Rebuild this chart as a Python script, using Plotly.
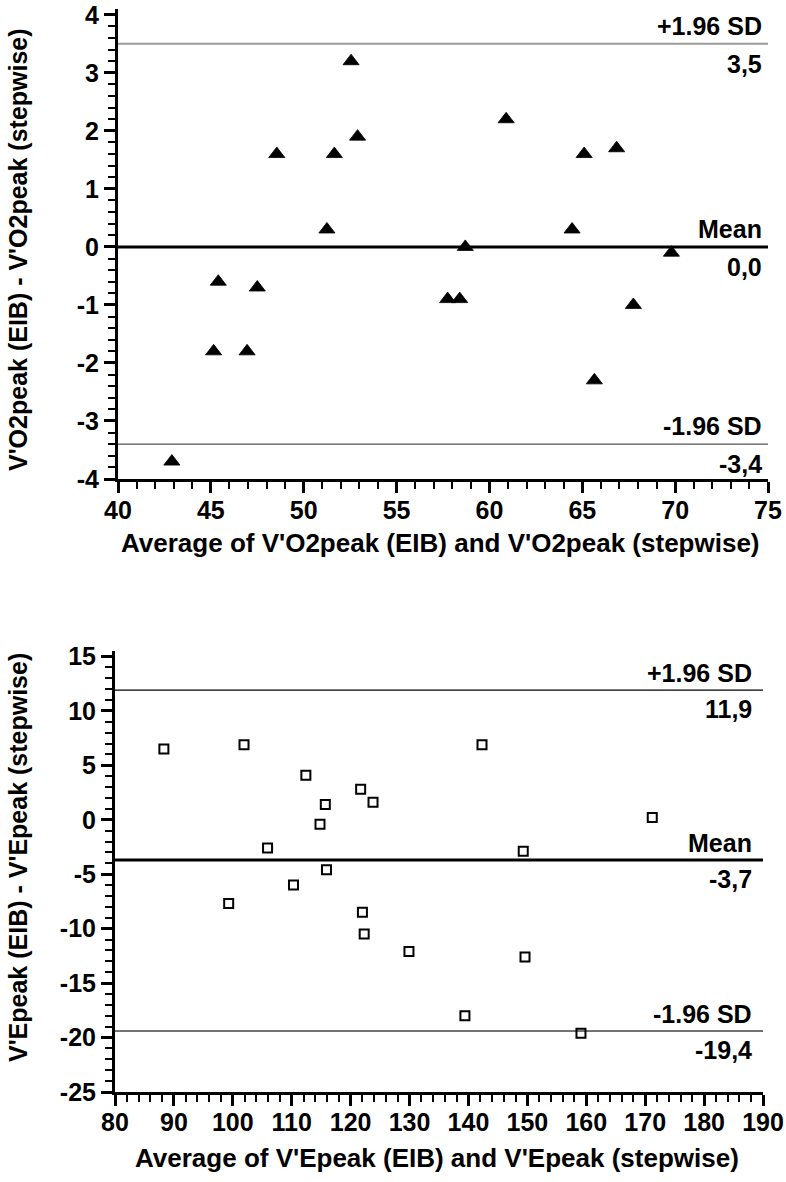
import plotly.graph_objects as go

W, H = 786, 1182

# V'O2peak: average of the two methods vs. their difference
vo2_avg = [42.9, 45.15, 45.4, 46.95, 47.5, 48.55, 51.25, 51.65, 52.55, 52.9,
           57.75, 58.4, 58.7, 60.9, 64.45, 65.1, 65.65, 66.85, 67.75, 69.8]
vo2_diff = [-3.7, -1.8, -0.6, -1.8, -0.7, 1.6, 0.3, 1.6, 3.2, 1.9,
            -0.9, -0.9, 0.0, 2.2, 0.3, 1.6, -2.3, 1.7, -1.0, -0.1]
vo2_limits = [3.5, 0.0, -3.4]
vo2_xticks = [40, 45, 50, 55, 60, 65, 70, 75]
vo2_yticks = [-4, -3, -2, -1, 0, 1, 2, 3, 4]

# V'Epeak: average of the two methods vs. their difference
ve_avg = [88.3, 99.3, 101.9, 105.9, 110.3, 112.4, 114.8, 115.7, 115.9, 121.7,
          122.0, 122.3, 123.8, 129.9, 139.4, 142.3, 149.3, 149.6, 159.1, 171.2]
ve_diff = [6.5, -7.7, 6.9, -2.6, -6.0, 4.1, -0.4, 1.4, -4.6, 2.8,
           -8.5, -10.5, 1.6, -12.1, -18.0, 6.9, -2.9, -12.6, -19.6, 0.2]
ve_limits = [11.9, -3.7, -19.4]
ve_xticks = [80, 90, 100, 110, 120, 130, 140, 150, 160, 170, 180, 190]
ve_yticks = [-25, -20, -15, -10, -5, 0, 5, 10, 15]

limit_names = ["+1.96 SD", "Mean", "-1.96 SD"]

FONT = "Liberation Sans, Arial, sans-serif"


def px_x(p):
    return p / W


def px_y(p):
    return 1 - p / H


def fmt(v):
    return f"{v:.1f}".replace(".", ",")


fig = go.Figure()

fig.add_trace(go.Scatter(
    x=vo2_avg, y=vo2_diff, mode="markers", xaxis="x", yaxis="y",
    marker=dict(symbol="triangle-up", size=14, color="black", line=dict(width=0.8, color="black")),
    showlegend=False, cliponaxis=False,
))
fig.add_trace(go.Scatter(
    x=ve_avg, y=ve_diff, mode="markers", xaxis="x2", yaxis="y2",
    marker=dict(symbol="square-open", size=9, color="black", line=dict(width=2, color="black")),
    showlegend=False, cliponaxis=False,
))

# Limit-of-agreement lines with their labels
top_styles = [dict(color="#9a9a9a", width=2), dict(color="black", width=3), dict(color="#555555", width=1.3)]
bot_styles = [dict(color="black", width=1.3), dict(color="black", width=3), dict(color="#444444", width=1.3)]
label_font = dict(family=FONT, size=25, color="black", weight="bold")

annotations = []

for val, name, style in zip(vo2_limits, limit_names, top_styles):
    fig.add_shape(type="line", xref="x", yref="y", x0=40, x1=75, y0=val, y1=val,
                  line=style, layer="below")
    annotations.append(dict(xref="x", yref="y", x=75, y=val, xanchor="right", yanchor="middle",
                            xshift=-4, yshift=18, showarrow=False, text=f"<b>{name}</b>", font=label_font))
    annotations.append(dict(xref="x", yref="y", x=75, y=val, xanchor="right", yanchor="middle",
                            xshift=-4, yshift=-20, showarrow=False, text=f"<b>{fmt(val)}</b>", font=label_font))

for val, name, style in zip(ve_limits, limit_names, bot_styles):
    fig.add_shape(type="line", xref="x2", yref="y2", x0=80, x1=190, y0=val, y1=val,
                  line=style, layer="below")
    annotations.append(dict(xref="x2", yref="y2", x=190, y=val, xanchor="right", yanchor="middle",
                            xshift=-9, yshift=17, showarrow=False, text=f"<b>{name}</b>", font=label_font))
    annotations.append(dict(xref="x2", yref="y2", x=190, y=val, xanchor="right", yanchor="middle",
                            xshift=-9, yshift=-19, showarrow=False, text=f"<b>{fmt(val)}</b>", font=label_font))

# Axis titles
title_font = dict(family=FONT, size=26, color="black", weight="bold")
ytitle_font = dict(family=FONT, size=25, color="black", weight="bold")
annotations += [
    dict(xref="paper", yref="paper", x=px_x(440), y=px_y(543), xanchor="center", yanchor="middle",
         showarrow=False, text="<b>Average of V'O2peak (EIB) and V'O2peak (stepwise)</b>", font=title_font),
    dict(xref="paper", yref="paper", x=px_x(18), y=px_y(250), xanchor="center", yanchor="middle",
         showarrow=False, textangle=-90, text="<b>V'O2peak (EIB) - V'O2peak (stepwise)</b>", font=ytitle_font),
    dict(xref="paper", yref="paper", x=px_x(437), y=px_y(1158), xanchor="center", yanchor="middle",
         showarrow=False, text="<b>Average of V'Epeak (EIB) and V'Epeak (stepwise)</b>", font=title_font),
    dict(xref="paper", yref="paper", x=px_x(18), y=px_y(858), xanchor="center", yanchor="middle",
         showarrow=False, textangle=-90, text="<b>V'Epeak (EIB) - V'Epeak (stepwise)</b>", font=ytitle_font),
]

tick_font = dict(family=FONT, size=25, color="black", weight="bold")


def axis(domain, rng, ticks, minor_dtick, anchor, standoff):
    return dict(
        domain=domain, range=rng, anchor=anchor, automargin=False,
        tickmode="array", tickvals=ticks, ticktext=[f"<b>{t}</b>" for t in ticks],
        ticks="outside", ticklen=11, tickwidth=2.5, tickcolor="black",
        ticklabelstandoff=standoff,
        showline=True, linewidth=3, linecolor="black", mirror=False,
        showgrid=False, zeroline=False, tickfont=tick_font,
        minor=dict(tickmode="linear", dtick=minor_dtick, tick0=0, ticks="outside", ticklen=7,
                   tickwidth=2, tickcolor="black", showgrid=False),
    )


fig.update_layout(
    template="none",
    width=W, height=H, autosize=False,
    margin=dict(l=0, r=0, t=0, b=0, pad=0),
    paper_bgcolor="white", plot_bgcolor="white",
    showlegend=False,
    xaxis=axis([px_x(118), px_x(768)], [40, 75], vo2_xticks, 1, "y", -4),
    yaxis=axis([px_y(479), px_y(9)], [-4, 4.1], vo2_yticks, 0.2, "x", 0),
    xaxis2=axis([px_x(115), px_x(763)], [80, 190], ve_xticks, 2, "y2", -5),
    yaxis2=axis([px_y(1092), px_y(651)], [-25, 15.5], ve_yticks, 1, "x2", 0),
    annotations=annotations,
)

fig.write_html(
    "out.html",
    post_script="document.body.style.margin='0';document.body.style.overflow='hidden';",
)
